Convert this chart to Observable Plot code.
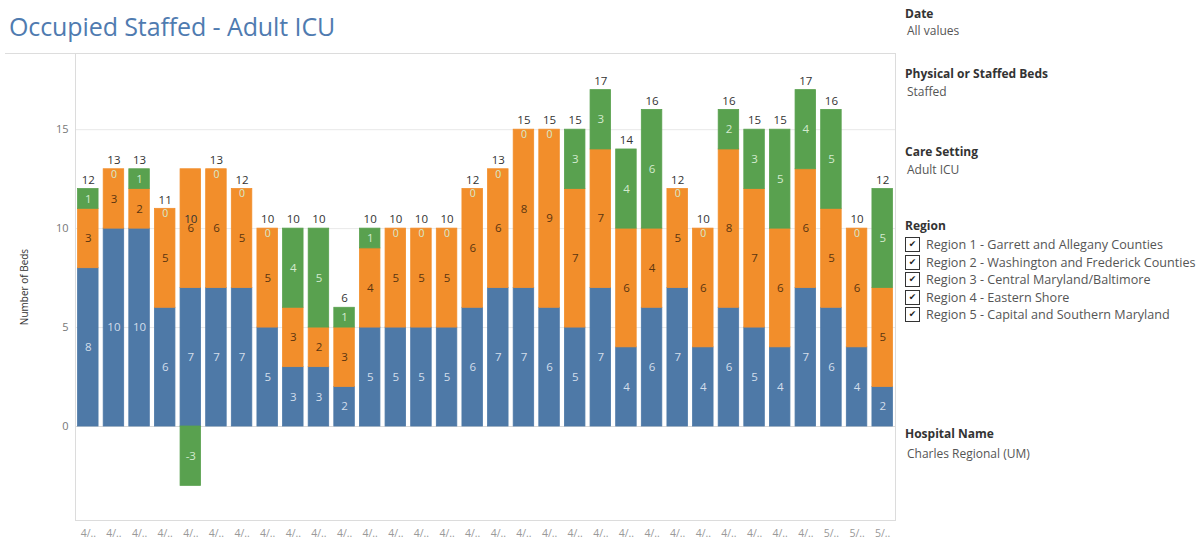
<!DOCTYPE html>
<html>
<head>
<meta charset="utf-8">
<script src="https://cdn.jsdelivr.net/npm/d3@7"></script>
<script src="https://cdn.jsdelivr.net/npm/@observablehq/plot@0.6"></script>
<style>
  html, body { margin: 0; padding: 0; background: #fff; }
  body { width: 1200px; height: 545px; position: relative; overflow: hidden; font-family: "Open Sans", "DejaVu Sans", sans-serif; }
  #title { position: absolute; left: 9px; top: 9px; font-size: 25px; color: #4f7bb0; letter-spacing: -0.1px; }
  #chart { position: absolute; left: 0; top: 0; }
  #topline { position: absolute; left: 5px; top: 53px; width: 72px; height: 1px; background: #ddd; }
  #panel { position: absolute; left: 905px; top: 0; width: 295px; color: #333; }
  .h { position: absolute; font-size: 12px; font-weight: bold; color: #333; white-space: nowrap; }
  .v { position: absolute; font-size: 12px; color: #555; white-space: nowrap; left: 2px; }
  .cb { position: absolute; left: 0; font-size: 12.6px; color: #555; white-space: nowrap; display: flex; align-items: center; }
  .box { display: inline-block; width: 15px; height: 15px; border: 1.5px solid #333; box-sizing: border-box; font-size: 9px; line-height: 12px; text-align: center; color: #222; margin-right: 6px; background: #fff; }
</style>
</head>
<body>
<div id="title">Occupied Staffed - Adult ICU</div>
<div id="topline"></div>
<div id="chart"></div>
<div id="panel"></div>
<script>
// ---- data ----
const dates = ["4/..","4/..","4/..","4/..","4/..","4/..","4/..","4/..","4/..","4/..","4/..","4/..","4/..","4/..","4/..","4/..","4/..","4/..","4/..","4/..","4/..","4/..","4/..","4/..","4/..","4/..","4/..","4/..","4/..","5/..","5/..","5/.."];
const seriesNames = ["Region A", "Region B", "Region C"];
const blueVals   = [8,10,10,6,7,7,7,5,3,3,2,5,5,5,5,6,7,7,6,5,7,4,6,7,4,6,5,4,7,6,4,2];
const orangeVals = [3,3,2,5,6,6,5,5,3,2,3,4,5,5,5,6,6,8,9,7,7,6,4,5,6,8,7,6,6,5,6,5];
const greenVals  = [1,0,1,0,-3,0,0,0,4,5,1,1,0,0,0,0,0,0,0,3,3,4,6,0,0,2,3,5,4,5,0,5];
const yTicks = [0, 5, 10, 15];
const filterHeaders = ["Date", "Physical or Staffed Beds", "Care Setting", "Region", "Hospital Name"];
const filterValues = ["All values", "Staffed", "Adult ICU", null, "Charles Regional (UM)"];
const regionItems = [
  "Region 1 - Garrett and Allegany Counties",
  "Region 2 - Washington and Frederick Counties",
  "Region 3 - Central Maryland/Baltimore",
  "Region 4 - Eastern Shore",
  "Region 5 - Capital and Southern Maryland"
];

// ---- table ----
const seriesVals = [blueVals, orangeVals, greenVals];
const rows = [];
dates.forEach((d, i) => {
  let pos = 0, neg = 0;
  seriesVals.forEach((vals, s) => {
    const v = vals[i];
    let lo, hi;
    if (v >= 0) { lo = pos; hi = pos + v; pos = hi; } else { hi = neg; lo = neg + v; neg = lo; }
    rows.push({i, series: seriesNames[s], value: v, mid: (lo + hi) / 2});
  });
});
const totals = dates.map((d, i) => ({i, total: blueVals[i] + orangeVals[i] + greenVals[i]}));

const fillColors = ["#4e79a7", "#f28e2b", "#59a14f"];
const labelColors = {"Region A": "#d3deeb", "Region B": "#5b3510", "Region C": "#d4ebcf"};

const chart = Plot.plot({
  width: 900,
  height: 545,
  marginTop: 53,
  marginBottom: 25,
  marginLeft: 75,
  marginRight: 5,
  style: {fontFamily: "'Open Sans', 'DejaVu Sans', sans-serif", background: "transparent"},
  x: {domain: d3.range(dates.length), paddingInner: 0.2, paddingOuter: 0.1, round: false, label: null},
  y: {domain: [-4.75, 18.85], label: "Number of Beds"},
  color: {domain: seriesNames, range: fillColors},
  marks: [
    Plot.gridY(yTicks.filter(t => t !== 0), {stroke: "#e9e9e9", strokeOpacity: 1}),
    Plot.ruleY([0], {stroke: "#d9d9d9"}),
    Plot.frame({stroke: "#dcdcdc"}),
    Plot.barY(rows, Plot.stackY({x: "i", y: "value", fill: "series", stroke: "series", strokeWidth: 0.8, order: seriesNames})),
    Plot.text(rows.filter(d => d.value !== 0), {
      x: "i", y: "mid",
      text: d => String(d.value),
      fill: d => labelColors[d.series],
      fontSize: 11.5
    }),
    Plot.text(rows.filter(d => d.value === 0), {
      x: "i", y: "mid",
      text: d => String(d.value),
      fill: d => labelColors[d.series],
      dy: 5,
      fontSize: 10.5
    }),
    Plot.text(totals, {x: "i", y: "total", text: d => String(d.total), dy: -9, fontSize: 11.5, fill: "#333"}),
    Plot.axisY(yTicks, {tickSize: 0, tickPadding: 7, fontSize: 11, color: "#777", label: "Number of Beds", labelAnchor: "center", labelArrow: "none", labelOffset: 55}),
    Plot.axisX({tickSize: 0, tickPadding: 9, fontSize: 10.5, color: "#999", tickFormat: i => dates[i], label: null})
  ]
});
chart.querySelectorAll("g[aria-label='y-axis label'] text").forEach(t => { t.setAttribute("fill", "#333"); t.setAttribute("font-size", "10"); });
document.getElementById("chart").appendChild(chart);

// ---- right panel ----
const panel = document.getElementById("panel");
const headerTops = [5, 65, 143, 217, 425];
const valueTops = [22, 83, 161, null, 445];
filterHeaders.forEach((h, k) => {
  const e = document.createElement("div");
  e.className = "h"; e.style.top = headerTops[k] + "px"; e.textContent = h;
  panel.appendChild(e);
  if (filterValues[k] !== null) {
    const v = document.createElement("div");
    v.className = "v"; v.style.top = valueTops[k] + "px"; v.textContent = filterValues[k];
    panel.appendChild(v);
  }
});
regionItems.forEach((r, k) => {
  const e = document.createElement("div");
  e.className = "cb"; e.style.top = (236 + k * 17.5) + "px";
  e.innerHTML = '<span class="box">\u2714</span>';
  e.appendChild(document.createTextNode(r));
  panel.appendChild(e);
});
</script>
</body>
</html>
